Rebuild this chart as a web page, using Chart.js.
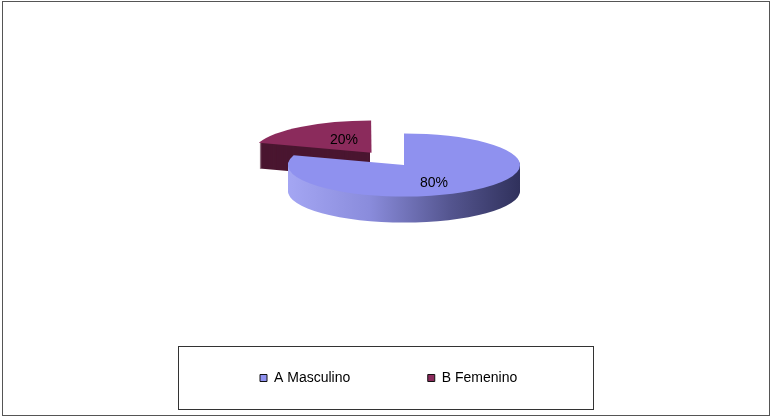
<!DOCTYPE html>
<html>
<head>
  <meta charset="UTF-8" />
  <title>Sexo</title>
  <script src="https://cdn.jsdelivr.net/npm/chart.js@4.4.0/dist/chart.umd.min.js"></script>
  <style>
    body{margin:0;background:#fff;font-family:"Liberation Sans",Arial,sans-serif}
    #wrap{position:relative;width:771px;height:417px}
    #frame{position:absolute;left:2px;top:1px;width:766px;height:413px;border:1px solid #555;pointer-events:none}
    #legendFrame{position:absolute;left:178px;top:346px;width:414px;height:62px;border:1px solid #333;pointer-events:none}
  </style>
</head>
<body>
  <div id="wrap">
    <canvas id="pieChart" width="771" height="417"></canvas>
    <div id="legendFrame"></div>
    <div id="frame"></div>
  </div>

  <script>
    const categories=['A Masculino','B Femenino'];
    const shares=[80,20];

    const topColors=['#8f91ef','#8b2b5c'];
    const TILT=0.272;  // vertical squash of the pie top
    const DEPTH=26;    // thickness of the disc, px

    // centre of every slice after its offset, projected onto the tilted plane
    function sliceGeom(chart){
      const meta=chart.getDatasetMeta(0);
      return meta.data.map((arc,i)=>{
        const p=arc.getProps(['x','y','startAngle','endAngle','outerRadius','circumference'],true);
        const mid=(p.startAngle+p.endAngle)/2;
        const off=(arc.options.offset||0)/4;
        const fix=1-Math.sin(Math.min(Math.PI,p.circumference||0));
        const d=off*(1+fix);
        const cx=p.x+Math.cos(mid)*d;
        const cy=p.y+Math.sin(mid)*d;
        return {i,mid,start:p.startAngle,end:p.endAngle,r:p.outerRadius,sx:cx,sy:p.y+(cy-p.y)*TILT,y0:p.y};
      });
    }

    function sideFill(ctx,s){
      if(s.i===0){
        const g=ctx.createLinearGradient(s.sx-s.r,0,s.sx+s.r,0);
        g.addColorStop(0,'#a4a6f3');
        g.addColorStop(0.35,'#8a8cdc');
        g.addColorStop(0.7,'#54558f');
        g.addColorStop(1,'#30315c');
        return g;
      }
      return '#4a1630';
    }

    const tiltPlugin={
      id:'tilt',
      beforeDatasetsDraw(chart){
        const ctx=chart.ctx;
        const geom=sliceGeom(chart).sort((a,b)=>a.sy-b.sy);
        geom.forEach(s=>{
          ctx.save();
          ctx.fillStyle=sideFill(ctx,s);
          for(let dz=DEPTH;dz>=1;dz--){
            ctx.beginPath();
            ctx.moveTo(s.sx,s.sy+dz);
            ctx.ellipse(s.sx,s.sy+dz,s.r,s.r*TILT,0,s.start,s.end);
            ctx.closePath();
            ctx.fill();
          }
          ctx.restore();
        });
        const y0=geom.length?geom[0].y0:0;
        ctx.save();
        ctx.translate(0,y0);
        ctx.scale(1,TILT);
        ctx.translate(0,-y0);
      },
      afterDatasetsDraw(chart){
        const ctx=chart.ctx;
        ctx.restore();
        const total=shares.reduce((a,b)=>a+b,0);
        ctx.save();
        ctx.font='14px "Liberation Sans", Arial, sans-serif';
        ctx.fillStyle='#000';
        ctx.textAlign='center';
        ctx.textBaseline='middle';
        sliceGeom(chart).forEach(s=>{
          const a=s.mid+Math.PI/18;
          const rr=s.r*0.55;
          const x=s.sx+Math.cos(a)*rr+2;
          const y=s.sy+Math.sin(a)*rr*TILT+3;
          ctx.fillText(Math.round(shares[s.i]/total*100)+'%',x,y);
        });
        ctx.restore();
      }
    };

    const baseLabels=(Chart.overrides.pie||Chart.overrides.doughnut).plugins.legend.labels.generateLabels;

    new Chart(document.getElementById('pieChart'),{
      type:'pie',
      data:{
        labels:categories,
        datasets:[{
          data:shares,
          backgroundColor:topColors,
          borderWidth:0,
          offset:[0,221],
          clip:false
        }]
      },
      options:{
        responsive:false,
        animation:false,
        events:[],
        radius:116,
        layout:{padding:{left:182.5,right:145.5,top:36.5,bottom:22}},
        plugins:{
          tooltip:{enabled:false},
          legend:{
            position:'bottom',
            align:'start',
            labels:{
              boxWidth:7,
              boxHeight:7,
              padding:77.5,
              color:'#000',
              font:{size:14,family:'"Liberation Sans", Arial, sans-serif'},
              generateLabels(chart){
                return baseLabels(chart).map(it=>Object.assign(it,{strokeStyle:'#111',lineWidth:1}));
              }
            }
          }
        }
      },
      plugins:[tiltPlugin]
    });
  </script>
</body>
</html>
